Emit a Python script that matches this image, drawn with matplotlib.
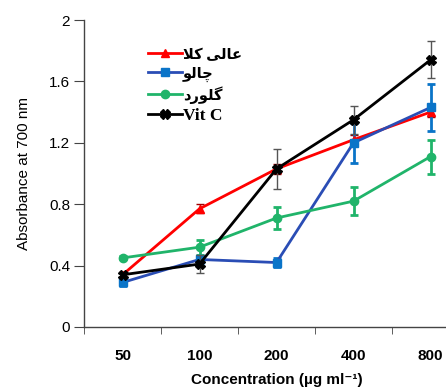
import matplotlib
matplotlib.use("Agg")
import matplotlib.pyplot as plt
from matplotlib.lines import Line2D
import numpy as np

categories = ["50", "100", "200", "400", "800"]
yticks = [0, 0.4, 0.8, 1.2, 1.6, 2]

# Persian names, pre-shaped (presentation forms) in visual LTR order
name_red = "\uFEFC\uFB90 \uFBFD\uFEDF\uFE8E\uFECB"      # عالی کلا
name_blue = "\uFEEE\uFEDF\uFE8E\uFB7C"                  # چالو
name_green = "\uFEA9\uFEAD\uFEEE\uFEE0\uFB94"           # گلورد
name_black = "Vit C"

red_vals = [0.34, 0.77, 1.03, 1.22, 1.40]
red_err = [0.02, 0.03, 0.03, 0.03, 0.03]
blue_vals = [0.29, 0.44, 0.42, 1.20, 1.43]
blue_err = [0.02, 0.02, 0.03, 0.13, 0.15]
green_vals = [0.45, 0.52, 0.71, 0.82, 1.11]
green_err = [0.01, 0.05, 0.07, 0.09, 0.11]
black_vals = [0.34, 0.41, 1.03, 1.35, 1.74]
black_err = [0.02, 0.06, 0.13, 0.09, 0.12]

fig = plt.figure(figsize=(4.46, 3.91), dpi=100)
ax = fig.add_axes([84/446, 64/391, 385/446, 307/391])

x = np.arange(len(categories))

styles = [
    dict(color="#FF0000", marker="^", ms=6, mfc="#FF0000", mec="#FF0000"),
    dict(color="#2A4DB5", marker="s", ms=6, mfc="#0A74C8", mec="#0A74C8"),
    dict(color="#20B46A", marker="o", ms=6, mfc="#20B46A", mec="#20B46A"),
    dict(color="black", marker="X", ms=7, mfc="black", mec="black"),
]

ax.errorbar(x, red_vals, yerr=red_err, lw=2.0, ecolor="#A00000", elinewidth=1.0,
            capsize=3, zorder=3, **styles[0])
ax.errorbar(x, blue_vals, yerr=blue_err, lw=2.0, ecolor="#0A74C8", elinewidth=2.0,
            capsize=3, capthick=2.0, zorder=3, **styles[1])
ax.errorbar(x, green_vals, yerr=green_err, lw=2.0, ecolor="#20B46A", elinewidth=2.0,
            capsize=3, capthick=2.0, zorder=3, **styles[2])
ax.errorbar(x, black_vals, yerr=black_err, lw=2.0, ecolor="#555555", elinewidth=1.0,
            capsize=3, zorder=4, **styles[3])

ax.set_xlim(-0.5, len(categories) - 0.5)
ax.set_ylim(0, 2)
ax.set_yticks(yticks)
ax.set_yticklabels(["0", "0.4", "0.8", "1.2", "1.6", "2"], fontfamily="Liberation Sans", fontsize=11)
ax.set_xticks(x)
ax.set_xticklabels(categories, fontfamily="Liberation Sans", fontsize=11, fontweight="bold")
ax.set_xticks(np.arange(len(categories) + 1) - 0.5, minor=True)
ax.tick_params(axis="x", which="major", length=0, pad=16)
ax.tick_params(axis="x", which="minor", length=5, direction="out", color="#444444")
ax.tick_params(axis="y", length=7, direction="out", color="#444444", pad=3)

for s in ["top", "right"]:
    ax.spines[s].set_visible(False)
for s in ["left", "bottom"]:
    ax.spines[s].set_color("#444444")
    ax.spines[s].set_linewidth(1.0)

ax.set_ylabel("Absorbance at 700 nm", fontfamily="Liberation Sans", fontsize=11, labelpad=13)
ax.set_xlabel("Concentration (\u00b5g ml\u207b\u00b9)", fontfamily=["Liberation Sans", "DejaVu Sans"],
              fontsize=11, fontweight="bold", labelpad=7)

handles = [Line2D([], [], lw=2.0, **st) for st in styles]
labels = [name_red, name_blue, name_green, name_black]
leg = ax.legend(handles, labels, loc="upper left", bbox_to_anchor=(0.166, 0.912), frameon=False,
                prop={"family": ["Liberation Serif", "DejaVu Sans"], "weight": "bold", "size": 12.5},
                handlelength=1.95, handletextpad=0.05, labelspacing=0.22, borderaxespad=0,
                borderpad=0)
for t in leg.get_texts()[:3]:
    t.set_fontsize(10.5)

fig.savefig("out.png", dpi=100)
